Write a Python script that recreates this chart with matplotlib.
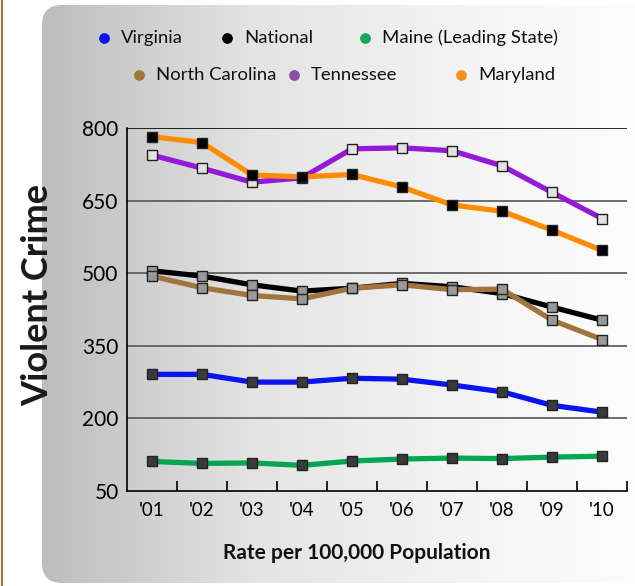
import numpy as np
import matplotlib
import matplotlib.pyplot as plt
from matplotlib.patches import FancyBboxPatch
from matplotlib.colors import LinearSegmentedColormap

matplotlib.rcParams.update({'font.family': 'Lato'})

years = ["'01", "'02", "'03", "'04", "'05", "'06", "'07", "'08", "'09", "'10"]
yticks = [50, 200, 350, 500, 650, 800]

virginia = [291, 291, 275, 275, 283, 281, 269, 255, 227, 213]
national = [505, 494, 476, 463, 469, 479, 472, 458, 430, 403]
maine = [111, 107, 108, 103, 112, 116, 118, 117, 120, 122]
north_carolina = [494, 470, 454, 447, 469, 476, 466, 467, 403, 363]
tennessee = [744, 717, 688, 697, 757, 759, 753, 722, 667, 613]
maryland = [782, 770, 703, 699, 704, 678, 641, 628, 589, 547]

names = ['Virginia', 'National', 'Maine (Leading State)',
         'North Carolina', 'Tennessee', 'Maryland']

# line colour, marker face, legend dot colour
styles = {
    'Virginia': ('#0a14f0', '#3a3a3a', '#0a14f0'),
    'National': ('#000000', '#999999', '#000000'),
    'Maine (Leading State)': ('#00a651', '#3a3a3a', '#1aa558'),
    'North Carolina': ('#a0743c', '#999999', '#a57539'),
    'Tennessee': ('#9419d8', '#e2e2e2', '#8e4fa0'),
    'Maryland': ('#ff8c00', '#000000', '#f7901e'),
}
series = {'Virginia': virginia, 'National': national,
          'Maine (Leading State)': maine, 'North Carolina': north_carolina,
          'Tennessee': tennessee, 'Maryland': maryland}

fig = plt.figure(figsize=(6.35, 5.86), dpi=100)

# background panel with a grey-to-white gradient and rounded corners
bg = fig.add_axes([0, 0, 1, 1])
bg.set_xlim(0, 635)
bg.set_ylim(586, 0)
bg.axis('off')
cmap = LinearSegmentedColormap.from_list('panel', ['#bdbdbd', '#e4e4e4', '#f4f4f4', '#ffffff'])
grad = np.linspace(0, 1, 256).reshape(1, -1)
im = bg.imshow(grad, extent=[42, 680, 583, 5], cmap=cmap, aspect='auto', zorder=0)
panel = FancyBboxPatch((62, 25), 640, 538, boxstyle='round,pad=20',
                       facecolor='none', edgecolor='none', transform=bg.transData)
bg.add_patch(panel)
im.set_clip_path(panel)
bg.plot([1.5, 1.5], [0, 586], color='#a57539', lw=1.5)

# legend, two rows
legend_pos = [(104, 38), (227, 38), (365, 38), (139, 75), (294, 75), (461, 75)]
for name, (lx, ly) in zip(names, legend_pos):
    bg.scatter([lx], [ly], s=45, color=styles[name][2], zorder=3)
    bg.text(lx + 17, ly, name, fontsize=13.3, va='center', ha='left', color='#111111')

ax = fig.add_axes([127 / 635, 1 - 491 / 586, 500 / 635, 363 / 586])
ax.patch.set_alpha(0)
x = np.arange(len(years))

for name in names:
    lc, mf, _ = styles[name]
    ax.plot(x, series[name], color=lc, lw=3.8, marker='s', markersize=6.5,
            markerfacecolor=mf, markeredgecolor='#222222', markeredgewidth=1,
            solid_joinstyle='round', zorder=3)

for v in yticks[1:]:
    ax.axhline(v, color='#000000' if v == 800 else '#555555', lw=1.2, zorder=1)

ax.set_xlim(-0.5, 9.5)
ax.set_ylim(50, 800)
ax.set_yticks(yticks)
ax.tick_params(axis='y', length=0, labelsize=15, pad=6)
ax.set_xticks(x)
ax.set_xticklabels(years)
ax.set_xticks(x + 0.5, minor=True)
ax.tick_params(axis='x', which='major', length=0, labelsize=13.5, pad=8)
ax.tick_params(axis='x', which='minor', direction='in', length=7, width=1.2)
for s in ['top', 'right']:
    ax.spines[s].set_visible(False)
ax.spines['left'].set_linewidth(1.2)
ax.spines['bottom'].set_linewidth(1.2)

fig.text(38 / 635, 1 - 295 / 586, 'Violent Crime', rotation=90, fontsize=26,
         fontweight='bold', ha='center', va='center', color='#1a1a1a')
fig.text(357 / 635, 1 - 553 / 586, 'Rate per 100,000 Population', fontsize=15,
         fontweight='bold', ha='center', va='center', color='#111111')

fig.savefig('out.png', dpi=100)
